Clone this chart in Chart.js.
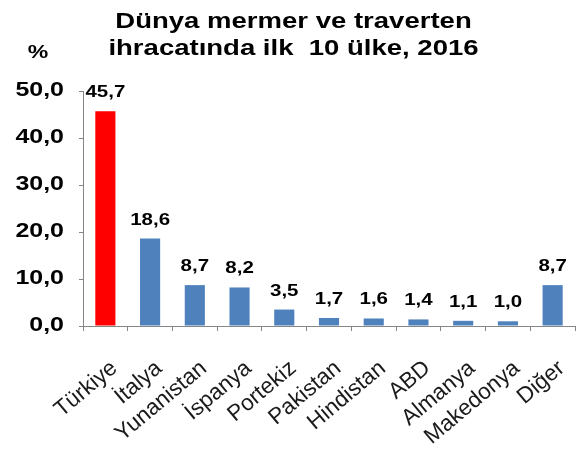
<!DOCTYPE html>
<html>
<head>
<meta charset="utf-8">
<script src="https://cdn.jsdelivr.net/npm/chart.js@4"></script>
<style>
  body { margin: 0; background: #fff; }
</style>
</head>
<body>
<canvas id="barChart" width="587" height="449"></canvas>
<script>
// Chart data
const countries = ['Türkiye', 'İtalya', 'Yunanistan', 'İspanya', 'Portekiz', 'Pakistan', 'Hindistan', 'ABD', 'Almanya', 'Makedonya', 'Diğer'];
const shares = [45.7, 18.6, 8.7, 8.2, 3.5, 1.7, 1.6, 1.4, 1.1, 1.0, 8.7];
const yTicks = [0, 10, 20, 30, 40, 50];
const titleLines = ['Dünya mermer ve traverten', 'ihracatında ilk  10 ülke, 2016'];

const fontFamily = '"Liberation Sans", Arial, sans-serif';
const stretch = 1.28; // bold texts in the reference are drawn wide
const fmt = v => v.toFixed(1).replace('.', ',');

function wideText(ctx, text, x, y, align, baseline) {
    ctx.save();
    ctx.translate(x, y);
    ctx.scale(stretch, 1);
    ctx.textAlign = align;
    ctx.textBaseline = baseline;
    ctx.fillText(text, 0, 0);
    ctx.restore();
}

// Draws title, "%" unit, y tick labels and value labels above bars
const labelPlugin = {
    id: 'labels',
    afterDatasetsDraw(chart) {
        const ctx = chart.ctx;
        const meta = chart.getDatasetMeta(0);
        const yScale = chart.scales.y;
        const cx = chart.width / 2;
        ctx.save();
        ctx.fillStyle = '#000';

        ctx.font = 'bold 21.5px ' + fontFamily;
        wideText(ctx, titleLines[0], cx, 28, 'center', 'alphabetic');
        wideText(ctx, titleLines[1], cx, 54.5, 'center', 'alphabetic');

        ctx.font = 'bold 18px ' + fontFamily;
        wideText(ctx, '%', 38, 58, 'center', 'alphabetic');

        ctx.font = 'bold 19.5px ' + fontFamily;
        yTicks.forEach(v => {
            wideText(ctx, fmt(v), yScale.left + 64, yScale.getPixelForValue(v), 'right', 'middle');
        });

        ctx.font = 'bold 16px ' + fontFamily;
        meta.data.forEach((bar, i) => {
            wideText(ctx, fmt(shares[i]), bar.x, bar.y - 14, 'center', 'alphabetic');
        });
        ctx.restore();
    }
};

const ctx = document.getElementById('barChart').getContext('2d');
new Chart(ctx, {
    type: 'bar',
    data: {
        labels: countries,
        datasets: [{
            data: shares,
            backgroundColor: countries.map((c, i) => i === 0 ? '#FF0000' : '#4F81BD'),
            barPercentage: 0.45,
            categoryPercentage: 1
        }]
    },
    options: {
        responsive: false,
        animation: false,
        layout: { padding: { left: 0, right: 12, top: 91, bottom: 0 } },
        plugins: {
            legend: { display: false },
            tooltip: { enabled: false },
            title: { display: false }
        },
        scales: {
            x: {
                grid: { drawOnChartArea: false, color: '#868686', tickLength: 5 },
                border: { color: '#868686' },
                ticks: {
                    color: '#1a1a1a',
                    autoSkip: false,
                    minRotation: 40,
                    maxRotation: 40,
                    padding: 24,
                    labelOffset: 9,
                    font: { family: fontFamily, size: 22.5 }
                },
                afterFit: scale => {
                    scale.height = 123;
                    scale.paddingLeft = 0;
                    scale.paddingRight = 0;
                }
            },
            y: {
                min: 0,
                max: 50,
                afterBuildTicks: scale => { scale.ticks = yTicks.map(v => ({ value: v })); },
                grid: { drawOnChartArea: false, color: '#868686', tickLength: 4 },
                border: { color: '#868686' },
                ticks: { display: false },
                afterFit: scale => { scale.width = 83; }
            }
        }
    },
    plugins: [labelPlugin]
});
</script>
</body>
</html>
